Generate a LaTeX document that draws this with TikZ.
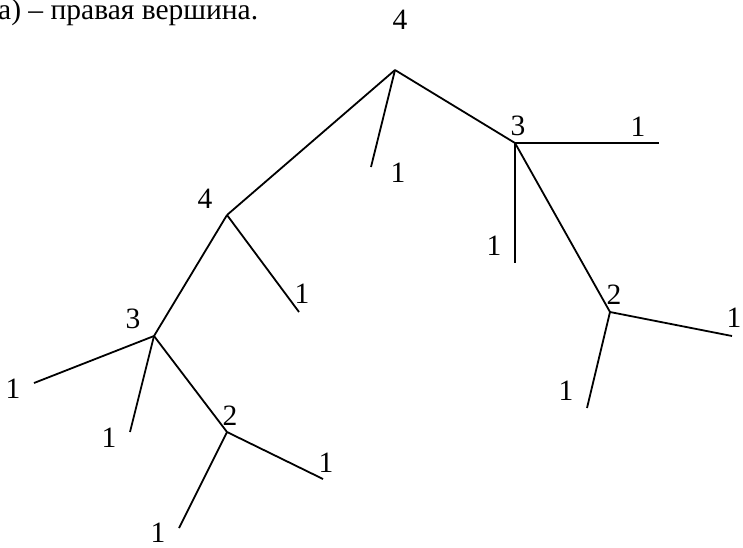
\documentclass[tikz,border=0pt]{standalone}
\usepackage{fontspec}
\setmainfont{Liberation Serif}
\begin{document}
\begin{tikzpicture}[x=1pt,y=-1pt,
  edge/.style={line width=1.8pt},
  lbl/.style={inner sep=0pt,font=\fontsize{29.5}{34}\selectfont}]
\useasboundingbox (0,0) rectangle (743,547);
\node[lbl,anchor=base west] (title) at (-2,19) {а) – правая вершина.};
% vertices
\coordinate (r) at (395,70);
\coordinate (a) at (227,215);
\coordinate (b) at (515,143);
\coordinate (c) at (154,336);
\coordinate (d) at (227,432);
\coordinate (e) at (610,312);
% leaves
\coordinate (r1) at (371,167);
\coordinate (a1) at (299,312);
\coordinate (b1) at (659,143);
\coordinate (b2) at (515,263);
\coordinate (c1) at (34,383);
\coordinate (c2) at (130,432);
\coordinate (d1) at (323,479);
\coordinate (d2) at (179,528);
\coordinate (e1) at (732,336);
\coordinate (e2) at (587,408);
% edges
\draw[edge] (r) -- (a);
\draw[edge] (r) -- (r1);
\draw[edge] (r) -- (b);
\draw[edge] (a) -- (a1);
\draw[edge] (a) -- (c);
\draw[edge] (b) -- (b1);
\draw[edge] (b) -- (b2);
\draw[edge] (b) -- (e);
\draw[edge] (c) -- (c1);
\draw[edge] (c) -- (c2);
\draw[edge] (c) -- (d);
\draw[edge] (d) -- (d1);
\draw[edge] (d) -- (d2);
\draw[edge] (e) -- (e1);
\draw[edge] (e) -- (e2);
% labels
\node[lbl] (lr) at (400,20) {4};
\node[lbl] (la) at (205,199) {4};
\node[lbl] (lb) at (518,126) {3};
\node[lbl] (lc) at (133,319) {3};
\node[lbl] (ld) at (230,416) {2};
\node[lbl] (le) at (614,295) {2};
\node[lbl] (lr1) at (398,173) {1};
\node[lbl] (la1) at (302,294) {1};
\node[lbl] (lb1) at (638,127) {1};
\node[lbl] (lb2) at (494,246) {1};
\node[lbl] (lc1) at (13,389) {1};
\node[lbl] (lc2) at (109,438) {1};
\node[lbl] (ld1) at (326,463) {1};
\node[lbl] (ld2) at (158,533) {1};
\node[lbl] (le1) at (734,318) {1};
\node[lbl] (le2) at (566,391) {1};
\end{tikzpicture}
\end{document}
